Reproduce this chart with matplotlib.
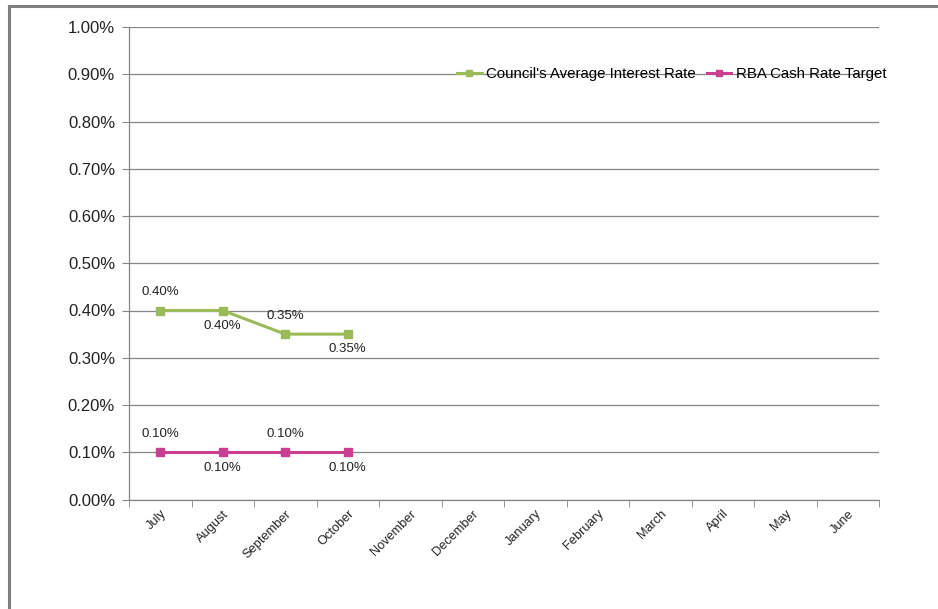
import matplotlib.pyplot as plt
from matplotlib.lines import Line2D
from matplotlib.ticker import FuncFormatter, FixedLocator

plt.rcParams['font.family'] = ['Liberation Sans', 'DejaVu Sans']

months = ["July", "August", "September", "October", "November", "December",
          "January", "February", "March", "April", "May", "June"]
council_rate = [0.40, 0.40, 0.35, 0.35]
rba_rate = [0.10, 0.10, 0.10, 0.10]
y_ticks = [0.0, 0.1, 0.2, 0.3, 0.4, 0.5, 0.6, 0.7, 0.8, 0.9, 1.0]

green = "#9BBB59"
pink = "#C8408F"
grey = "#868686"

fig = plt.figure(figsize=(9.38, 6.09), dpi=100)
ax = fig.add_axes([129 / 938, 1 - 499.5 / 609, 750 / 938, 472.5 / 609])

x_pos = [i + 0.5 for i in range(len(months))]

ax.plot(x_pos[:len(council_rate)], council_rate, color=green, lw=2.2,
        marker="s", ms=5.5, label="Council's Average Interest Rate")
ax.plot(x_pos[:len(rba_rate)], rba_rate, color=pink, lw=2.2,
        marker="s", ms=5.5, label="RBA Cash Rate Target")

# value labels alternate above / below the points
for series in (council_rate, rba_rate):
    for i, v in enumerate(series):
        dy = 13 if i % 2 == 0 else -11
        ax.annotate(f"{v:.2f}%", (x_pos[i], v), xytext=(0, dy),
                    textcoords="offset points", ha="center", va="center",
                    fontsize=9.5, color="#222222")

ax.set_xlim(0, 12)
ax.set_ylim(0, 1.0)
ax.set_yticks(y_ticks)
ax.yaxis.set_major_formatter(FuncFormatter(lambda v, p: f"{v:.2f}%"))
ax.yaxis.grid(True, color=grey, lw=0.9)
ax.set_axisbelow(True)

ax.set_xticks(x_pos)
ax.set_xticklabels(months, rotation=45, ha="right", rotation_mode="anchor",
                   fontsize=9.2, color="#222222")
ax.xaxis.set_minor_locator(FixedLocator(range(13)))
ax.tick_params(axis="x", which="major", length=0, pad=6)
ax.tick_params(axis="x", which="minor", length=5, color=grey)
ax.tick_params(axis="y", length=5, color=grey, labelsize=12, labelcolor="#222222", pad=5)

for s in ("top", "right"):
    ax.spines[s].set_visible(False)
for s in ("left", "bottom"):
    ax.spines[s].set_color(grey)
    ax.spines[s].set_linewidth(0.9)

fig.legend(loc="center left", bbox_to_anchor=(457 / 938, 1 - 74 / 609),
           ncol=2, frameon=False, fontsize=10.8, handlelength=1.65,
           handletextpad=0.3, columnspacing=0.7, borderaxespad=0,
           borderpad=0, markerscale=0.8)

# outer chart frame (left and top edges)
fig.add_artist(Line2D([9 / 938, 9 / 938], [0, 1 - 6 / 609], color="#7F7F7F", lw=2.2))
fig.add_artist(Line2D([9 / 938, 1], [1 - 6 / 609, 1 - 6 / 609], color="#7F7F7F", lw=2.2))

fig.savefig("out.png", dpi=100, facecolor="white")
